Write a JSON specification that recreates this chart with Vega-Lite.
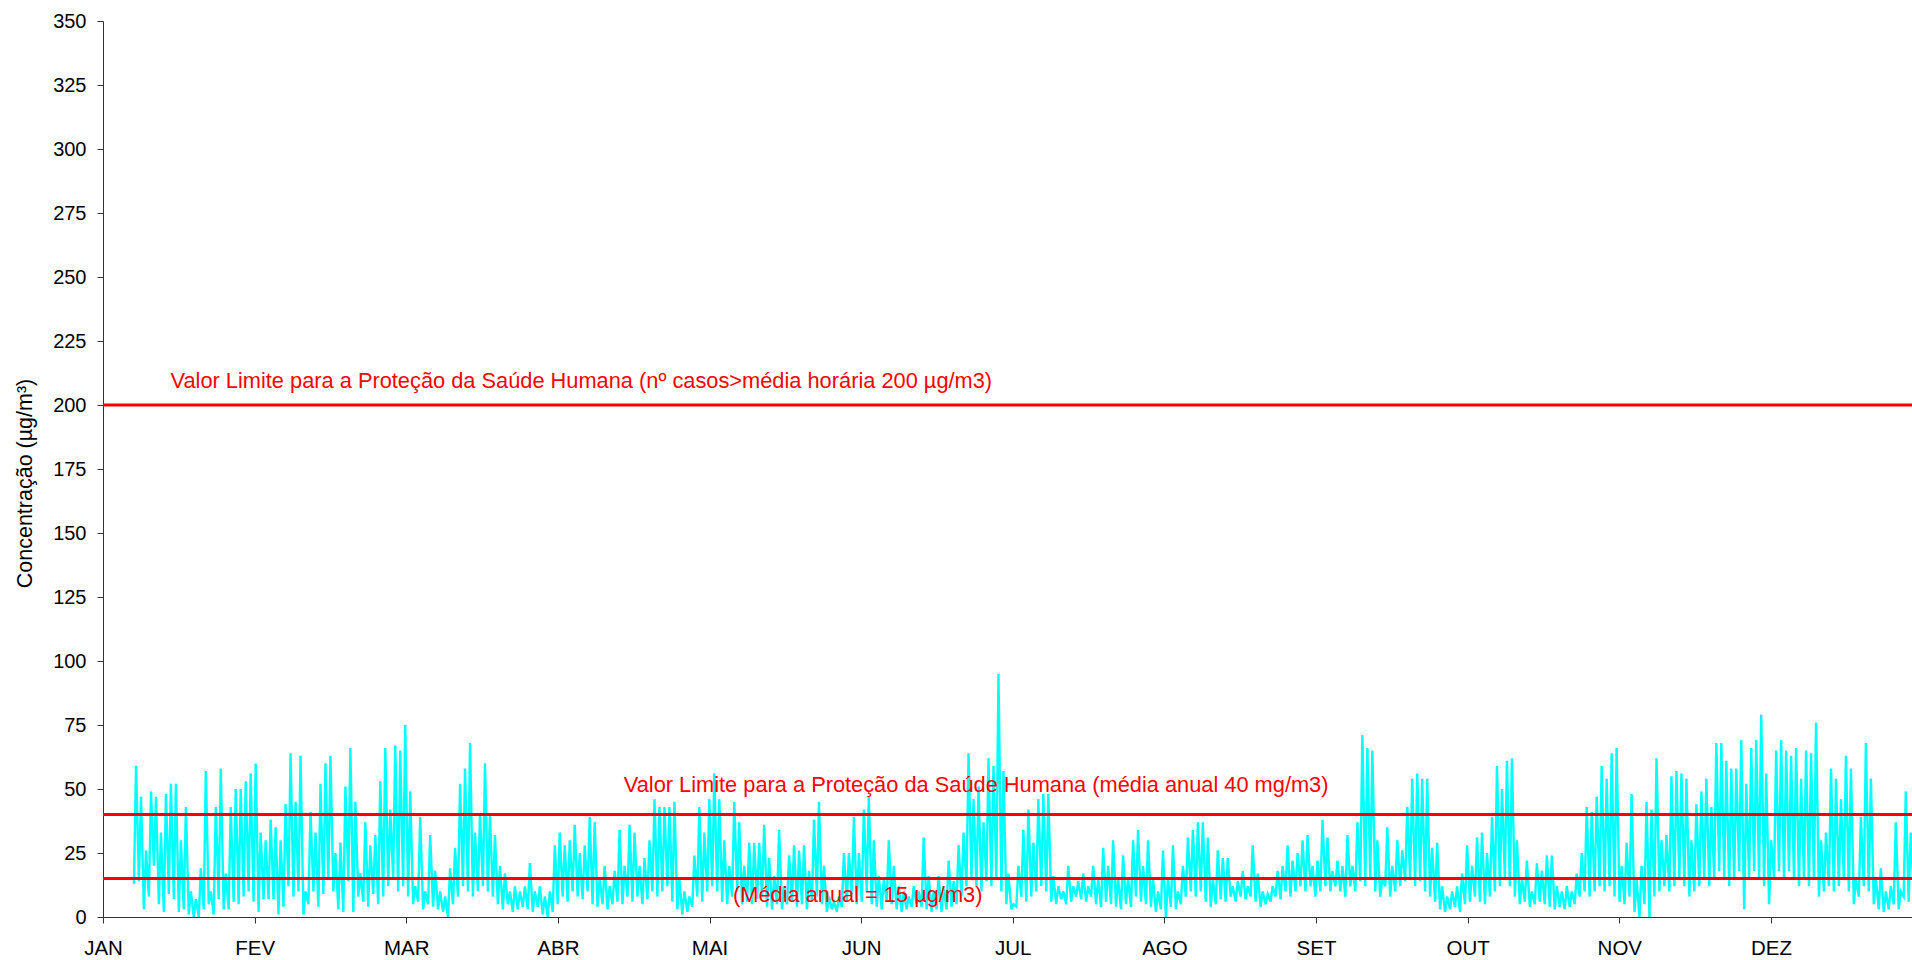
{
  "$schema": "https://vega.github.io/schema/vega-lite/v6.json",
  "width": 1809,
  "height": 896,
  "autosize": {"type": "none"},
  "padding": {"left": 103, "top": 21, "right": 0, "bottom": 43},
  "background": "white",
  "config": {"view": {"stroke": null}, "font": "Liberation Sans"},
  "datasets": {
    "serie": [
      {"h":149,"v":13},{"h":159,"v":59},{"h":173,"v":14},{"h":183,"v":47},{"h":197,"v":3},{"h":207,"v":26},{"h":221,"v":8},{"h":231,"v":49},{"h":245,"v":20},{"h":255,"v":47},
      {"h":269,"v":5},{"h":279,"v":33},{"h":293,"v":2},{"h":303,"v":48},{"h":317,"v":9},{"h":327,"v":52},{"h":341,"v":7},{"h":351,"v":52},{"h":365,"v":2},{"h":375,"v":30},
      {"h":389,"v":3},{"h":399,"v":43},{"h":413,"v":1},{"h":423,"v":10},{"h":437,"v":0},{"h":447,"v":7},{"h":461,"v":0},{"h":471,"v":19},{"h":485,"v":3},{"h":495,"v":57},
      {"h":509,"v":5},{"h":519,"v":10},{"h":533,"v":1},{"h":543,"v":43},{"h":557,"v":7},{"h":567,"v":58},{"h":581,"v":3},{"h":591,"v":17},{"h":605,"v":3},{"h":615,"v":43},
      {"h":629,"v":6},{"h":639,"v":50},{"h":653,"v":5},{"h":663,"v":50},{"h":677,"v":8},{"h":687,"v":53},{"h":701,"v":10},{"h":711,"v":56},{"h":725,"v":6},{"h":735,"v":60},
      {"h":749,"v":2},{"h":759,"v":33},{"h":773,"v":7},{"h":783,"v":30},{"h":797,"v":7},{"h":807,"v":38},{"h":821,"v":7},{"h":831,"v":35},{"h":845,"v":1},{"h":855,"v":30},
      {"h":869,"v":4},{"h":879,"v":44},{"h":893,"v":12},{"h":903,"v":64},{"h":917,"v":8},{"h":927,"v":45},{"h":941,"v":10},{"h":951,"v":63},{"h":965,"v":1},{"h":975,"v":10},
      {"h":989,"v":5},{"h":999,"v":41},{"h":1013,"v":10},{"h":1023,"v":33},{"h":1037,"v":4},{"h":1047,"v":52},{"h":1061,"v":9},{"h":1071,"v":60},{"h":1085,"v":15},{"h":1095,"v":63},
      {"h":1109,"v":10},{"h":1119,"v":25},{"h":1133,"v":3},{"h":1143,"v":29},{"h":1157,"v":2},{"h":1167,"v":51},{"h":1181,"v":14},{"h":1191,"v":66},{"h":1205,"v":2},{"h":1215,"v":45},
      {"h":1229,"v":8},{"h":1239,"v":17},{"h":1253,"v":6},{"h":1263,"v":37},{"h":1277,"v":4},{"h":1287,"v":28},{"h":1301,"v":9},{"h":1311,"v":32},{"h":1325,"v":5},{"h":1335,"v":53},
      {"h":1349,"v":8},{"h":1359,"v":66},{"h":1373,"v":12},{"h":1383,"v":42},{"h":1397,"v":15},{"h":1407,"v":67},{"h":1421,"v":10},{"h":1431,"v":65},{"h":1445,"v":12},{"h":1455,"v":75},
      {"h":1469,"v":8},{"h":1479,"v":49},{"h":1493,"v":5},{"h":1503,"v":12},{"h":1517,"v":6},{"h":1527,"v":39},{"h":1541,"v":3},{"h":1551,"v":10},{"h":1565,"v":5},{"h":1575,"v":32},
      {"h":1589,"v":4},{"h":1599,"v":18},{"h":1613,"v":3},{"h":1623,"v":10},{"h":1637,"v":2},{"h":1647,"v":8},{"h":1661,"v":0},{"h":1671,"v":19},{"h":1685,"v":5},{"h":1695,"v":27},
      {"h":1709,"v":8},{"h":1719,"v":52},{"h":1733,"v":12},{"h":1743,"v":58},{"h":1757,"v":10},{"h":1767,"v":68},{"h":1781,"v":8},{"h":1791,"v":33},{"h":1805,"v":10},{"h":1815,"v":40},
      {"h":1829,"v":12},{"h":1839,"v":60},{"h":1853,"v":10},{"h":1863,"v":40},{"h":1877,"v":8},{"h":1887,"v":32},{"h":1901,"v":5},{"h":1911,"v":20},{"h":1925,"v":3},{"h":1935,"v":17},
      {"h":1949,"v":5},{"h":1959,"v":10},{"h":1973,"v":2},{"h":1983,"v":12},{"h":1997,"v":3},{"h":2007,"v":10},{"h":2021,"v":4},{"h":2031,"v":12},{"h":2045,"v":3},{"h":2055,"v":21},
      {"h":2069,"v":2},{"h":2079,"v":10},{"h":2093,"v":4},{"h":2103,"v":12},{"h":2117,"v":1},{"h":2127,"v":8},{"h":2141,"v":0},{"h":2151,"v":10},{"h":2165,"v":2},{"h":2175,"v":28},
      {"h":2189,"v":5},{"h":2199,"v":33},{"h":2213,"v":8},{"h":2223,"v":28},{"h":2237,"v":6},{"h":2247,"v":30},{"h":2261,"v":10},{"h":2271,"v":36},{"h":2285,"v":8},{"h":2295,"v":25},
      {"h":2309,"v":7},{"h":2319,"v":28},{"h":2333,"v":10},{"h":2343,"v":39},{"h":2357,"v":5},{"h":2367,"v":37},{"h":2381,"v":4},{"h":2391,"v":15},{"h":2405,"v":5},{"h":2415,"v":20},
      {"h":2429,"v":3},{"h":2439,"v":12},{"h":2453,"v":5},{"h":2463,"v":18},{"h":2477,"v":6},{"h":2487,"v":34},{"h":2501,"v":5},{"h":2511,"v":20},{"h":2525,"v":8},{"h":2535,"v":36},
      {"h":2549,"v":6},{"h":2559,"v":33},{"h":2573,"v":8},{"h":2583,"v":20},{"h":2597,"v":5},{"h":2607,"v":23},{"h":2621,"v":7},{"h":2631,"v":30},{"h":2645,"v":10},{"h":2655,"v":46},
      {"h":2669,"v":8},{"h":2679,"v":43},{"h":2693,"v":10},{"h":2703,"v":43},{"h":2717,"v":12},{"h":2727,"v":43},{"h":2741,"v":6},{"h":2751,"v":45},{"h":2765,"v":3},{"h":2775,"v":15},
      {"h":2789,"v":1},{"h":2799,"v":10},{"h":2813,"v":2},{"h":2823,"v":8},{"h":2837,"v":4},{"h":2847,"v":24},{"h":2861,"v":8},{"h":2871,"v":43},{"h":2885,"v":6},{"h":2895,"v":33},
      {"h":2909,"v":10},{"h":2919,"v":46},{"h":2933,"v":12},{"h":2943,"v":56},{"h":2957,"v":10},{"h":2967,"v":46},{"h":2981,"v":6},{"h":2991,"v":30},{"h":3005,"v":5},{"h":3015,"v":20},
      {"h":3029,"v":8},{"h":3039,"v":45},{"h":3053,"v":10},{"h":3063,"v":37},{"h":3077,"v":5},{"h":3087,"v":20},{"h":3101,"v":6},{"h":3111,"v":29},{"h":3125,"v":5},{"h":3135,"v":29},
      {"h":3149,"v":7},{"h":3159,"v":29},{"h":3173,"v":8},{"h":3183,"v":36},{"h":3197,"v":4},{"h":3207,"v":23},{"h":3221,"v":3},{"h":3231,"v":16},{"h":3245,"v":5},{"h":3255,"v":34},
      {"h":3269,"v":3},{"h":3279,"v":12},{"h":3293,"v":5},{"h":3303,"v":24},{"h":3317,"v":6},{"h":3327,"v":28},{"h":3341,"v":4},{"h":3351,"v":26},{"h":3365,"v":5},{"h":3375,"v":28},
      {"h":3389,"v":3},{"h":3399,"v":18},{"h":3413,"v":6},{"h":3423,"v":38},{"h":3437,"v":8},{"h":3447,"v":45},{"h":3461,"v":5},{"h":3471,"v":20},{"h":3485,"v":2},{"h":3495,"v":8},
      {"h":3509,"v":3},{"h":3519,"v":6},{"h":3533,"v":2},{"h":3543,"v":8},{"h":3557,"v":4},{"h":3567,"v":25},{"h":3581,"v":6},{"h":3591,"v":25},{"h":3605,"v":8},{"h":3615,"v":39},
      {"h":3629,"v":5},{"h":3639,"v":25},{"h":3653,"v":6},{"h":3663,"v":42},{"h":3677,"v":10},{"h":3687,"v":47},{"h":3701,"v":5},{"h":3711,"v":30},{"h":3725,"v":4},{"h":3735,"v":16},
      {"h":3749,"v":3},{"h":3759,"v":15},{"h":3773,"v":6},{"h":3783,"v":30},{"h":3797,"v":5},{"h":3807,"v":20},{"h":3821,"v":3},{"h":3831,"v":12},{"h":3845,"v":2},{"h":3855,"v":10},
      {"h":3869,"v":3},{"h":3879,"v":8},{"h":3893,"v":4},{"h":3903,"v":12},{"h":3917,"v":5},{"h":3927,"v":10},{"h":3941,"v":4},{"h":3951,"v":31},{"h":3965,"v":3},{"h":3975,"v":16},
      {"h":3989,"v":2},{"h":3999,"v":10},{"h":4013,"v":3},{"h":4023,"v":16},{"h":4037,"v":2},{"h":4047,"v":12},{"h":4061,"v":3},{"h":4071,"v":22},{"h":4085,"v":4},{"h":4095,"v":14},
      {"h":4109,"v":5},{"h":4119,"v":28},{"h":4133,"v":8},{"h":4143,"v":33},{"h":4157,"v":12},{"h":4167,"v":64},{"h":4181,"v":15},{"h":4191,"v":46},{"h":4205,"v":12},{"h":4215,"v":51},
      {"h":4229,"v":10},{"h":4239,"v":37},{"h":4253,"v":14},{"h":4263,"v":62},{"h":4277,"v":12},{"h":4287,"v":59},{"h":4301,"v":15},{"h":4311,"v":95},{"h":4325,"v":10},{"h":4335,"v":57},
      {"h":4349,"v":5},{"h":4359,"v":17},{"h":4373,"v":3},{"h":4383,"v":5},{"h":4397,"v":4},{"h":4407,"v":20},{"h":4421,"v":8},{"h":4431,"v":34},{"h":4445,"v":6},{"h":4455,"v":42},
      {"h":4469,"v":8},{"h":4479,"v":29},{"h":4493,"v":10},{"h":4503,"v":46},{"h":4517,"v":12},{"h":4527,"v":48},{"h":4541,"v":10},{"h":4551,"v":48},{"h":4565,"v":6},{"h":4575,"v":16},
      {"h":4589,"v":5},{"h":4599,"v":12},{"h":4613,"v":7},{"h":4623,"v":10},{"h":4637,"v":5},{"h":4647,"v":20},{"h":4661,"v":6},{"h":4671,"v":12},{"h":4685,"v":8},{"h":4695,"v":14},
      {"h":4709,"v":7},{"h":4719,"v":17},{"h":4733,"v":6},{"h":4743,"v":12},{"h":4757,"v":8},{"h":4767,"v":20},{"h":4781,"v":5},{"h":4791,"v":15},{"h":4805,"v":4},{"h":4815,"v":27},
      {"h":4829,"v":6},{"h":4839,"v":20},{"h":4853,"v":5},{"h":4863,"v":30},{"h":4877,"v":4},{"h":4887,"v":15},{"h":4901,"v":3},{"h":4911,"v":24},{"h":4925,"v":5},{"h":4935,"v":15},
      {"h":4949,"v":4},{"h":4959,"v":30},{"h":4973,"v":8},{"h":4983,"v":34},{"h":4997,"v":6},{"h":5007,"v":20},{"h":5021,"v":5},{"h":5031,"v":30},{"h":5045,"v":4},{"h":5055,"v":15},
      {"h":5069,"v":2},{"h":5079,"v":10},{"h":5093,"v":3},{"h":5103,"v":26},{"h":5117,"v":0},{"h":5127,"v":15},{"h":5141,"v":4},{"h":5151,"v":28},{"h":5165,"v":3},{"h":5175,"v":10},
      {"h":5189,"v":5},{"h":5199,"v":20},{"h":5213,"v":8},{"h":5223,"v":31},{"h":5237,"v":10},{"h":5247,"v":34},{"h":5261,"v":8},{"h":5271,"v":37},{"h":5285,"v":10},{"h":5295,"v":37},
      {"h":5309,"v":6},{"h":5319,"v":31},{"h":5333,"v":4},{"h":5343,"v":15},{"h":5357,"v":5},{"h":5367,"v":26},{"h":5381,"v":7},{"h":5391,"v":23},{"h":5405,"v":6},{"h":5415,"v":23},
      {"h":5429,"v":8},{"h":5439,"v":12},{"h":5453,"v":6},{"h":5463,"v":14},{"h":5477,"v":8},{"h":5487,"v":18},{"h":5501,"v":7},{"h":5511,"v":12},{"h":5525,"v":8},{"h":5535,"v":28},
      {"h":5549,"v":6},{"h":5559,"v":17},{"h":5573,"v":4},{"h":5583,"v":10},{"h":5597,"v":5},{"h":5607,"v":9},{"h":5621,"v":6},{"h":5631,"v":12},{"h":5645,"v":8},{"h":5655,"v":18},
      {"h":5669,"v":7},{"h":5679,"v":20},{"h":5693,"v":10},{"h":5703,"v":28},{"h":5717,"v":8},{"h":5727,"v":22},{"h":5741,"v":10},{"h":5751,"v":25},{"h":5765,"v":12},{"h":5775,"v":30},
      {"h":5789,"v":10},{"h":5799,"v":32},{"h":5813,"v":12},{"h":5823,"v":20},{"h":5837,"v":8},{"h":5847,"v":22},{"h":5861,"v":10},{"h":5871,"v":38},{"h":5885,"v":12},{"h":5895,"v":31},
      {"h":5909,"v":10},{"h":5919,"v":18},{"h":5933,"v":12},{"h":5943,"v":22},{"h":5957,"v":10},{"h":5967,"v":20},{"h":5981,"v":8},{"h":5991,"v":32},{"h":6005,"v":12},{"h":6015,"v":20},
      {"h":6029,"v":10},{"h":6039,"v":37},{"h":6053,"v":14},{"h":6063,"v":71},{"h":6077,"v":12},{"h":6087,"v":66},{"h":6101,"v":15},{"h":6111,"v":65},{"h":6125,"v":10},{"h":6135,"v":30},
      {"h":6149,"v":8},{"h":6159,"v":15},{"h":6173,"v":12},{"h":6183,"v":35},{"h":6197,"v":8},{"h":6207,"v":20},{"h":6221,"v":10},{"h":6231,"v":30},{"h":6245,"v":12},{"h":6255,"v":26},
      {"h":6269,"v":14},{"h":6279,"v":43},{"h":6293,"v":15},{"h":6303,"v":54},{"h":6317,"v":12},{"h":6327,"v":56},{"h":6341,"v":14},{"h":6351,"v":54},{"h":6365,"v":10},{"h":6375,"v":54},
      {"h":6389,"v":8},{"h":6399,"v":27},{"h":6413,"v":6},{"h":6423,"v":29},{"h":6437,"v":3},{"h":6447,"v":12},{"h":6461,"v":2},{"h":6471,"v":8},{"h":6485,"v":3},{"h":6495,"v":10},
      {"h":6509,"v":4},{"h":6519,"v":12},{"h":6533,"v":2},{"h":6543,"v":17},{"h":6557,"v":5},{"h":6567,"v":28},{"h":6581,"v":6},{"h":6591,"v":20},{"h":6605,"v":8},{"h":6615,"v":31},
      {"h":6629,"v":6},{"h":6639,"v":33},{"h":6653,"v":5},{"h":6663,"v":25},{"h":6677,"v":8},{"h":6687,"v":39},{"h":6701,"v":10},{"h":6711,"v":59},{"h":6725,"v":12},{"h":6735,"v":50},
      {"h":6749,"v":15},{"h":6759,"v":61},{"h":6773,"v":12},{"h":6783,"v":62},{"h":6797,"v":8},{"h":6807,"v":30},{"h":6821,"v":5},{"h":6831,"v":15},{"h":6845,"v":6},{"h":6855,"v":22},
      {"h":6869,"v":4},{"h":6879,"v":10},{"h":6893,"v":5},{"h":6903,"v":21},{"h":6917,"v":6},{"h":6927,"v":18},{"h":6941,"v":5},{"h":6951,"v":24},{"h":6965,"v":4},{"h":6975,"v":24},
      {"h":6989,"v":3},{"h":6999,"v":12},{"h":7013,"v":4},{"h":7023,"v":10},{"h":7037,"v":3},{"h":7047,"v":12},{"h":7061,"v":4},{"h":7071,"v":10},{"h":7085,"v":5},{"h":7095,"v":17},
      {"h":7109,"v":8},{"h":7119,"v":25},{"h":7133,"v":10},{"h":7143,"v":43},{"h":7157,"v":8},{"h":7167,"v":41},{"h":7181,"v":10},{"h":7191,"v":47},{"h":7205,"v":12},{"h":7215,"v":59},
      {"h":7229,"v":10},{"h":7239,"v":54},{"h":7253,"v":12},{"h":7263,"v":64},{"h":7277,"v":8},{"h":7287,"v":66},{"h":7301,"v":6},{"h":7311,"v":20},{"h":7325,"v":5},{"h":7335,"v":29},
      {"h":7349,"v":8},{"h":7359,"v":48},{"h":7373,"v":2},{"h":7383,"v":15},{"h":7397,"v":0},{"h":7407,"v":20},{"h":7421,"v":5},{"h":7431,"v":45},{"h":7445,"v":0},{"h":7455,"v":42},
      {"h":7469,"v":8},{"h":7479,"v":62},{"h":7493,"v":10},{"h":7503,"v":30},{"h":7517,"v":12},{"h":7527,"v":32},{"h":7541,"v":10},{"h":7551,"v":55},{"h":7565,"v":12},{"h":7575,"v":57},
      {"h":7589,"v":15},{"h":7599,"v":56},{"h":7613,"v":12},{"h":7623,"v":54},{"h":7637,"v":8},{"h":7647,"v":30},{"h":7661,"v":10},{"h":7671,"v":44},{"h":7685,"v":12},{"h":7695,"v":49},
      {"h":7709,"v":15},{"h":7719,"v":54},{"h":7733,"v":12},{"h":7743,"v":43},{"h":7757,"v":15},{"h":7767,"v":68},{"h":7781,"v":18},{"h":7791,"v":68},{"h":7805,"v":15},{"h":7815,"v":61},
      {"h":7829,"v":12},{"h":7839,"v":58},{"h":7853,"v":15},{"h":7863,"v":58},{"h":7877,"v":18},{"h":7887,"v":69},{"h":7901,"v":3},{"h":7911,"v":52},{"h":7925,"v":15},{"h":7935,"v":66},
      {"h":7949,"v":18},{"h":7959,"v":69},{"h":7973,"v":15},{"h":7983,"v":79},{"h":7997,"v":12},{"h":8007,"v":56},{"h":8021,"v":5},{"h":8031,"v":30},{"h":8045,"v":15},{"h":8055,"v":65},
      {"h":8069,"v":18},{"h":8079,"v":69},{"h":8093,"v":15},{"h":8103,"v":65},{"h":8117,"v":18},{"h":8127,"v":63},{"h":8141,"v":15},{"h":8151,"v":66},{"h":8165,"v":12},{"h":8175,"v":54},
      {"h":8189,"v":15},{"h":8199,"v":65},{"h":8213,"v":12},{"h":8223,"v":64},{"h":8237,"v":15},{"h":8247,"v":76},{"h":8261,"v":8},{"h":8271,"v":30},{"h":8285,"v":10},{"h":8295,"v":33},
      {"h":8309,"v":12},{"h":8319,"v":58},{"h":8333,"v":10},{"h":8343,"v":54},{"h":8357,"v":12},{"h":8367,"v":46},{"h":8381,"v":15},{"h":8391,"v":63},{"h":8405,"v":10},{"h":8415,"v":58},
      {"h":8429,"v":5},{"h":8439,"v":15},{"h":8453,"v":8},{"h":8463,"v":39},{"h":8477,"v":12},{"h":8487,"v":68},{"h":8501,"v":10},{"h":8511,"v":54},{"h":8525,"v":5},{"h":8535,"v":15},
      {"h":8549,"v":3},{"h":8559,"v":19},{"h":8573,"v":2},{"h":8583,"v":10},{"h":8597,"v":3},{"h":8607,"v":12},{"h":8621,"v":5},{"h":8631,"v":37},{"h":8645,"v":3},{"h":8655,"v":10},
      {"h":8669,"v":8},{"h":8679,"v":49},{"h":8693,"v":6},{"h":8703,"v":33},{"h":8717,"v":10},{"h":8727,"v":40}
    ],
    "limites": [{"v": 200}, {"v": 40}, {"v": 15}]
  },
  "layer": [
    {
      "data": {"name": "serie"},
      "mark": {"type": "line", "color": "#00FFFF", "strokeWidth": 2.4, "clip": true},
      "encoding": {
        "x": {
          "field": "h",
          "type": "quantitative",
          "scale": {"domain": [0, 8709], "nice": false, "zero": false},
          "axis": {
            "title": null,
            "grid": false,
            "values": [0, 730, 1460, 2190, 2920, 3650, 4380, 5110, 5840, 6570, 7300, 8030],
            "labelExpr": "['JAN','FEV','MAR','ABR','MAI','JUN','JUL','AGO','SET','OUT','NOV','DEZ'][round(datum.value / 730)]",
            "labelFont": "Liberation Sans",
            "labelFontSize": 20.5,
            "labelColor": "#000000",
            "labelPadding": 15,
            "labelFlush": false,
            "labelOverlap": false,
            "labelBound": false,
            "tickSize": 6,
            "tickColor": "#333333",
            "domainColor": "#333333"
          }
        },
        "y": {
          "field": "v",
          "type": "quantitative",
          "scale": {"domain": [0, 350], "nice": false},
          "axis": {
            "title": "Concentração (µg/m³)",
            "grid": false,
            "values": [0, 25, 50, 75, 100, 125, 150, 175, 200, 225, 250, 275, 300, 325, 350],
            "labelFont": "Liberation Sans",
            "labelFontSize": 20,
            "labelColor": "#000000",
            "labelPadding": 11,
            "tickSize": 6,
            "tickColor": "#333333",
            "domainColor": "#333333",
            "titleFont": "Liberation Sans",
            "titleFontSize": 21.5,
            "titleFontWeight": "normal",
            "titleColor": "#000000",
            "titleAngle": 270,
            "titleAlign": "center",
            "titleBaseline": "alphabetic",
            "titleX": -72,
            "titleY": 462
          }
        }
      }
    },
    {
      "data": {"name": "limites"},
      "mark": {"type": "rule", "color": "#FF0000", "strokeWidth": 3},
      "encoding": {
        "y": {"field": "v", "type": "quantitative", "title": "Concentração (µg/m³)"}
      }
    },
    {
      "data": {"values": [{"rotulo": "Valor Limite para a Proteção da Saúde Humana (nº casos>média horária 200 µg/m3)"}]},
      "mark": {"type": "text", "font": "Liberation Sans", "fontSize": 21.8, "color": "#FF0000", "align": "left", "baseline": "alphabetic", "dy": -17},
      "encoding": {"x": {"datum": 325}, "y": {"datum": 200}, "text": {"field": "rotulo"}}
    },
    {
      "data": {"values": [{"rotulo": "Valor Limite para a Proteção da Saúde Humana (média anual 40 mg/m3)"}]},
      "mark": {"type": "text", "font": "Liberation Sans", "fontSize": 21.8, "color": "#FF0000", "align": "left", "baseline": "alphabetic", "dy": -22.6},
      "encoding": {"x": {"datum": 2507}, "y": {"datum": 40}, "text": {"field": "rotulo"}}
    },
    {
      "data": {"values": [{"rotulo": "(Média anual = 15 µg/m3)"}]},
      "mark": {"type": "text", "font": "Liberation Sans", "fontSize": 21.8, "color": "#FF0000", "align": "left", "baseline": "alphabetic", "dy": 23.8},
      "encoding": {"x": {"datum": 3033}, "y": {"datum": 15}, "text": {"field": "rotulo"}}
    }
  ]
}
